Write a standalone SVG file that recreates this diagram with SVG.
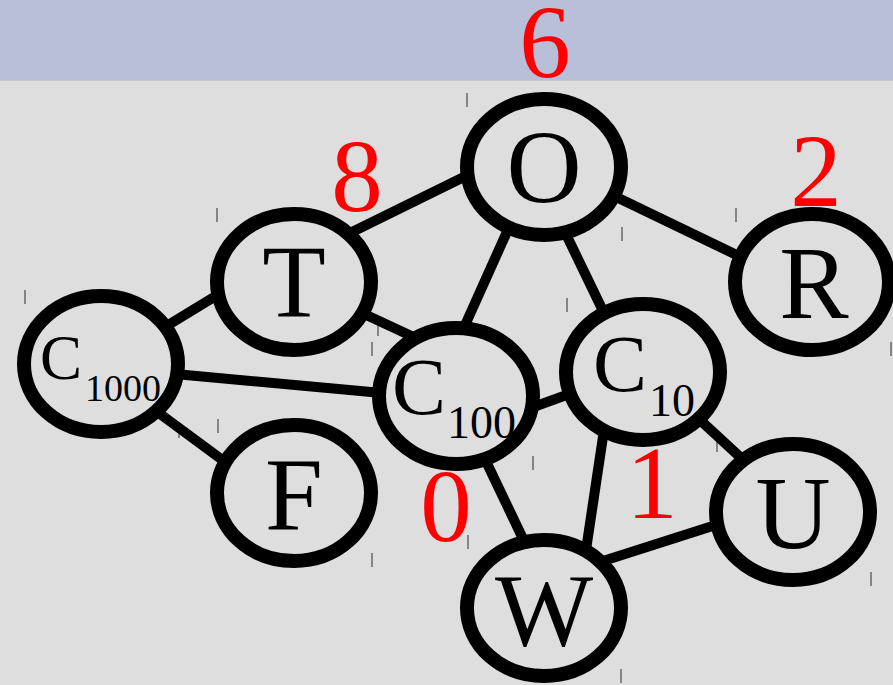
<svg xmlns="http://www.w3.org/2000/svg" width="893" height="685" viewBox="0 0 893 685">
  <style>
    .node ellipse { fill: #dedede; stroke: #000; stroke-width: 14; }
    .lbl { font-family: "Liberation Serif", "Times New Roman", serif; fill: #000; text-anchor: middle; font-size: 104px; }
    .clbl { font-family: "Liberation Serif", "Times New Roman", serif; fill: #000; }
    .num { font-family: "Liberation Serif", "Times New Roman", serif; fill: #ff0000; text-anchor: middle; font-size: 103px; }
    #edges line { stroke: #000; stroke-width: 10; }
    #ticks line { stroke: #555; stroke-width: 1.3; }
  </style>

  <!-- background: header band and canvas -->
  <rect x="0" y="0" width="893" height="685" fill="#dedede"/>
  <rect x="0" y="0" width="893" height="80" fill="#b9bed9"/>
  <line x1="0" y1="80.5" x2="893" y2="80.5" stroke="#c8c8cc" stroke-width="1"/>

  <!-- small corner marks of the label boxes -->
  <g id="ticks">
    <line x1="467" y1="93" x2="467" y2="107"/><line x1="622" y1="227" x2="622" y2="241"/>
    <line x1="217" y1="208" x2="217" y2="222"/><line x1="372" y1="342" x2="372" y2="356"/>
    <line x1="25" y1="290" x2="25" y2="304"/><line x1="179" y1="424" x2="179" y2="438"/>
    <line x1="218" y1="419" x2="218" y2="433"/><line x1="372" y1="553" x2="372" y2="567"/>
    <line x1="378" y1="322" x2="378" y2="336"/><line x1="533" y1="456" x2="533" y2="470"/>
    <line x1="567" y1="298" x2="567" y2="312"/><line x1="717" y1="438" x2="717" y2="452"/>
    <line x1="736" y1="208" x2="736" y2="222"/><line x1="891" y1="342" x2="891" y2="356"/>
    <line x1="871" y1="572" x2="871" y2="586"/>
    <line x1="468" y1="535" x2="468" y2="549"/><line x1="621" y1="669" x2="621" y2="683"/>
  </g>

  <!-- connectors -->
  <g id="edges">
    <line x1="348" y1="234" x2="470" y2="174"/>
    <line x1="610" y1="194" x2="745" y2="259"/>
    <line x1="510" y1="225" x2="462" y2="332"/>
    <line x1="563" y1="228" x2="605" y2="315"/>
    <line x1="224" y1="291" x2="160" y2="330"/>
    <line x1="362" y1="313" x2="420" y2="340"/>
    <line x1="175" y1="374" x2="382" y2="393"/>
    <line x1="152" y1="408" x2="236" y2="470"/>
    <line x1="528" y1="409" x2="572" y2="393"/>
    <line x1="483" y1="455" x2="525" y2="543"/>
    <line x1="604" y1="430" x2="586" y2="550"/>
    <line x1="700" y1="420" x2="752" y2="468"/>
    <line x1="600" y1="562" x2="722" y2="523"/>
  </g>

  <g id="node-O" class="node">
    <ellipse cx="544" cy="167" rx="77" ry="68"/>
    <text class="lbl" x="544" y="202">O</text>
  </g>
  <g id="node-T" class="node">
    <ellipse cx="294" cy="282" rx="77" ry="68"/>
    <text class="lbl" x="294" y="317">T</text>
  </g>
  <g id="node-R" class="node">
    <ellipse cx="812" cy="282" rx="77" ry="68"/>
    <text class="lbl" x="814" y="318">R</text>
  </g>
  <g id="node-C1000" class="node">
    <ellipse cx="101" cy="364" rx="77" ry="68"/>
    <text class="clbl" x="40" y="379" font-size="63">C<tspan font-size="38" dx="3" y="401">1000</tspan></text>
  </g>
  <g id="node-C100" class="node">
    <ellipse cx="456" cy="396" rx="77" ry="68"/>
    <text class="clbl" x="392" y="414" font-size="81">C<tspan font-size="46" dx="1" y="438">100</tspan></text>
  </g>
  <g id="node-C10" class="node">
    <ellipse cx="643" cy="372" rx="77" ry="68"/>
    <text class="clbl" x="593" y="391" font-size="81">C<tspan font-size="46" dx="2" y="416">10</tspan></text>
  </g>
  <g id="node-F" class="node">
    <ellipse cx="294" cy="493" rx="77" ry="68"/>
    <text class="lbl" x="294" y="529">F</text>
  </g>
  <g id="node-U" class="node">
    <ellipse cx="793" cy="512" rx="77" ry="68"/>
    <text class="lbl" x="793" y="548">U</text>
  </g>
  <g id="node-W" class="node">
    <ellipse cx="544" cy="608" rx="77" ry="68"/>
    <text class="lbl" x="544" y="645">W</text>
  </g>

  <!-- red numbers -->
  <g id="numbers">
    <text class="num" x="545" y="77">6</text>
    <text class="num" x="357" y="211">8</text>
    <text class="num" x="816" y="206">2</text>
    <text class="num" x="652" y="518">1</text>
    <text class="num" x="446" y="541">0</text>
  </g>
</svg>
